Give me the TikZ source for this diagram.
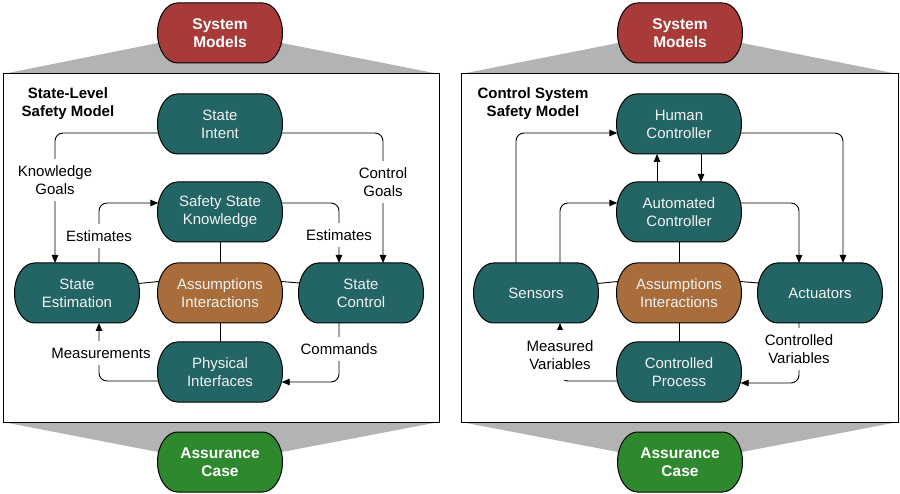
\documentclass[tikz,border=0pt]{standalone}
\usepackage{fontspec}
\setmainfont{Liberation Sans}
\usetikzlibrary{arrows.meta,calc}
\definecolor{tealc}{RGB}{34,101,100}
\definecolor{redc}{RGB}{168,58,58}
\definecolor{brownc}{RGB}{168,109,58}
\definecolor{greenc}{RGB}{46,137,46}
\definecolor{grayc}{RGB}{179,179,179}
\definecolor{txtc}{RGB}{242,242,242}
\tikzset{
  box/.style={minimum width=125pt, minimum height=60pt, align=center, inner sep=0pt,
    font=\fontsize{15}{18}\selectfont, text=txtc},
  headbox/.style={box, font=\fontsize{15.5}{18.5}\selectfont\bfseries, text=white},
  pillshape/.style={draw=black, line width=1pt},
  panel/.style={draw=black, line width=1pt, fill=white},
  funnel/.style={fill=grayc, draw=none},
  conn/.style={draw=black, line width=0.9pt, rounded corners=8pt},
  arr/.style={conn, -{Triangle[length=8pt,width=6.5pt]}},
  lbl/.style={fill=white, inner xsep=2pt, inner ysep=6.5pt, align=center, font=\fontsize{15}{18}\selectfont},
  ttl/.style={align=center, font=\fontsize{15}{18}\selectfont\bfseries}
}
% #1 name, #2 position, #3 fill colour, #4 text style, #5 text
\newcommand{\pill}[5]{%
  \fill[pillshape, fill=#3, shift={(#2)}] (-42.5,-30) -- (42.5,-30)
    .. controls (53.5,-30) and (62.5,-16.6) .. (62.5,0)
    .. controls (62.5,16.6) and (53.5,30) .. (42.5,30) -- (-42.5,30)
    .. controls (-53.5,30) and (-62.5,16.6) .. (-62.5,0)
    .. controls (-62.5,-16.6) and (-53.5,-30) .. (-42.5,-30) -- cycle;
  \node[#4] (#1) at (#2) {#5};%
}
\begin{document}
\begin{tikzpicture}[x=1pt,y=-1pt]
\useasboundingbox (0,0) rectangle (900,494);
% funnels
\fill[funnel] (3,74) -- (158,43) -- (282,43) -- (439,74) -- cycle;
\fill[funnel] (3,422) -- (158,452) -- (282,452) -- (439,422) -- cycle;
\fill[funnel] (461,74) -- (618,43) -- (742,43) -- (898,74) -- cycle;
\fill[funnel] (461,422) -- (618,452) -- (742,452) -- (898,422) -- cycle;
% panels
\draw[panel] (3,74) rectangle (439,422);
\draw[panel] (461,74) rectangle (898,422);
% heads
\pill{sm1}{220,33}{redc}{headbox}{System\\Models}
\pill{ac1}{220,462}{greenc}{headbox}{Assurance\\Case}
\pill{sm2}{680,33}{redc}{headbox}{System\\Models}
\pill{ac2}{680,462}{greenc}{headbox}{Assurance\\Case}
% titles
\node[ttl] (t1) at (68,104) {State-Level\\Safety Model};
\node[ttl] (t2) at (533,104) {Control System\\Safety Model};
% left nodes
\pill{intent}{220,124}{tealc}{box}{State\\Intent}
\pill{ssk}{220,212}{tealc}{box}{Safety State\\Knowledge}
\pill{ai1}{220,293}{brownc}{box}{Assumptions\\Interactions}
\pill{sest}{77,293}{tealc}{box}{State\\Estimation}
\pill{sctl}{361,293}{tealc}{box}{State\\Control}
\pill{phys}{220,372}{tealc}{box}{Physical\\Interfaces}
% right nodes
\pill{human}{679,124}{tealc}{box}{Human\\Controller}
\pill{auto}{679,212}{tealc}{box}{Automated\\Controller}
\pill{ai2}{679,293}{brownc}{box}{Assumptions\\Interactions}
\pill{sens}{536,293}{tealc}{box}{Sensors}
\pill{act}{820,293}{tealc}{box}{Actuators}
\pill{proc}{679,372}{tealc}{box}{Controlled\\Process}
% left connectors
\draw[arr] ([xshift=1pt]intent.west |- 0,133) -| (55,263);
\draw[arr] ([xshift=-1pt]intent.east |- 0,133) -| (383,263);
\draw[arr] (99,263) |- ([xshift=1pt]ssk.west |- 0,203);
\draw[arr] ([xshift=-1pt]ssk.east |- 0,203) -| (339,263);
\draw[conn] (ssk.south) -- (ai1.north);
\draw[conn] (138.5,283.5) -- (158.8,281.5);
\draw[conn] (281.2,281.5) -- (299.5,283);
\draw[conn] (ai1.south) -- (phys.north);
\draw[arr] ([xshift=1pt]phys.west |- 0,381) -| (99,323);
\draw[arr] (339,323) |- ([xshift=-1pt]phys.east |- 0,382);
% right connectors
\draw[arr] (516,263) |- ([xshift=1pt]human.west |- 0,133);
\draw[arr] (560,263) |- ([xshift=1pt]auto.west |- 0,203);
\draw[arr] ([xshift=-1pt]human.east |- 0,133) -| (843,263);
\draw[arr] ([xshift=-1pt]auto.east |- 0,203) -| (799,263);
\draw[arr] (657,182) -- (657,154);
\draw[arr] (701,154) -- (701,182);
\draw[conn] (auto.south) -- (ai2.north);
\draw[conn] (597.5,283.5) -- (617.8,281.5);
\draw[conn] (740.2,281.5) -- (758.5,283);
\draw[conn] (ai2.south) -- (proc.north);
\draw[arr] ([xshift=1pt]proc.west |- 0,381) -| (560,323);
\draw[arr] (799,323) |- ([xshift=-1pt]proc.east |- 0,383);
% labels
\node[lbl] (l1) at (55,180) {Knowledge\\Goals};
\node[lbl] (l2) at (383,182) {Control\\Goals};
\node[lbl] (l3) at (99,236) {Estimates};
\node[lbl] (l4) at (339,235) {Estimates};
\node[lbl] (l5) at (101,353) {Measurements};
\node[lbl] (l6) at (339,349) {Commands};
\node[lbl, inner ysep=10pt] (l7) at (560,355) {Measured\\Variables};
\node[lbl] (l8) at (799,349) {Controlled\\Variables};
\end{tikzpicture}
\end{document}
